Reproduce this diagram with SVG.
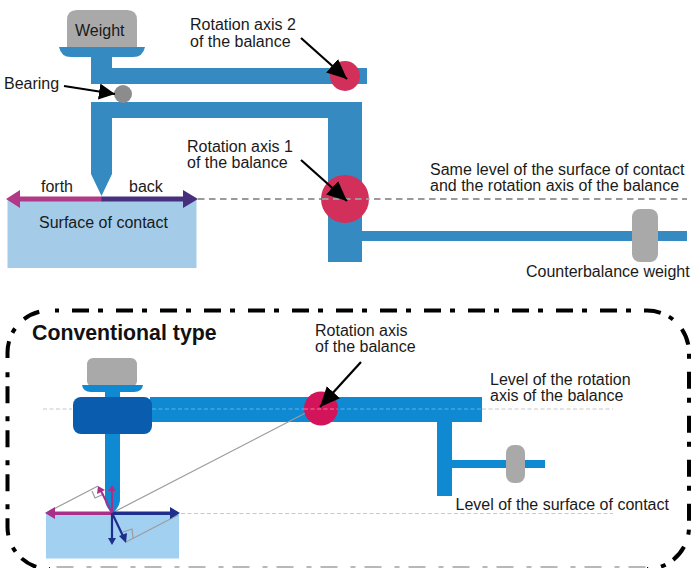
<svg xmlns="http://www.w3.org/2000/svg" width="691" height="568" viewBox="0 0 691 568">
<style>
text{font-family:"Liberation Sans",Arial,sans-serif;font-size:16px;fill:#1a1a1a}
.b{fill:#368ac2}.c{fill:#0f8ad2}.g{fill:#a9a9a9}.r{fill:#d2305a}
.d{stroke:#9a9a9a;stroke-width:1.8;stroke-dasharray:6.500 4.500;fill:none}
.d2{stroke:#c8c8c8;stroke-width:1.2;stroke-dasharray:4 2.500;fill:none}
.k{stroke:#000;stroke-width:2.200;fill:none;marker-end:url(#ka)}
.k2{stroke:#000;stroke-width:2.200;fill:none;marker-end:url(#kb)}
.l{stroke:#9c9c9c;stroke-width:1.2;fill:none}
.f{fill:none;stroke:#000;stroke-width:4;stroke-dasharray:17 9 5 13}
</style>
<defs>
<marker id="ka" markerUnits="userSpaceOnUse" markerWidth="22" markerHeight="20" refX="20" refY="9" orient="auto"><path d="M0 0L20 9L0 18Z" fill="#000"/></marker>
<marker id="kb" markerUnits="userSpaceOnUse" markerWidth="18" markerHeight="18" refX="16" refY="8" orient="auto"><path d="M0 0L16 8L0 16Z" fill="#000"/></marker>
</defs>
<rect id="background" width="691" height="568" fill="#fff"/>
<g id="surface-top"><rect x="7.500" y="199" width="189" height="69" fill="#a4cce8"/><text x="39" y="228">Surface of contact</text></g>
<path class="d" d="M198 199H687"/>
<g id="weight-top"><path d="M67 47V20Q67 10 77 10H127Q137 10 137 20V47Z" class="g"/><text x="75" y="36">Weight</text></g>
<g id="upper-beam"><path class="b" d="M59 47H145Q143 57 133 57H112V68H367V84H91V57H71Q61 57 59 47Z"/></g>
<g id="lower-beam"><path class="b" d="M91 102H362V262H328V118H112V174L101.500 196L91 174Z"/></g>
<g id="bearing"><circle cx="123" cy="94" r="9" fill="#8c8c8c"/><text x="4" y="89">Bearing</text></g>
<g id="axis-2"><circle cx="345" cy="76" r="15" class="r"/><text x="190" y="30">Rotation axis 2</text><text x="190" y="47">of the balance</text></g>
<g id="counterbalance"><rect x="362" y="231" width="325" height="10" class="b"/><rect x="632" y="209" width="26" height="53" rx="8" class="g"/><text x="526" y="277">Counterbalance weight</text></g>
<g id="axis-1"><circle cx="345" cy="199" r="24" class="r"/><text x="187" y="152">Rotation axis 1</text><text x="187" y="168">of the balance</text></g>
<path class="d" d="M322 199H369"/>
<g id="level-label"><text x="430" y="175">Same level of the surface of contact</text><text x="430" y="191">and the rotation axis of the balance</text></g>
<g id="motion-top">
<text x="41" y="192">forth</text><text x="129" y="192">back</text>
<path d="M102 196.500H20V190L6 199L20 208V201.500H102Z" fill="#b03a88"/>
<path d="M101.500 196.500H183V190L198 199L183 208V201.500H101.500Z" fill="#46307e"/>
</g>
<g id="connectors-top">
<path class="k2" d="M64 86L115 94"/><path class="k" d="M301 38L347 79"/><path class="k" d="M301 160L347 201"/>
</g>
<g id="frame">
<path class="f" stroke-dashoffset="27" d="M55 310.500H647A42 42 0 0 1 689 352.500V527A42 42 0 0 1 647 569"/>
<path class="f" stroke-dashoffset="30" d="M50 569A42 42 0 0 1 7.500 527V360"/>
<path class="f" style="stroke-dasharray:17 9 5 13 17 100" d="M7.500 358V352.500A42 42 0 0 1 50 310.500"/>
<path d="M647 567H50" fill="none" stroke="#b8b8b8" stroke-width="2.200" stroke-dasharray="17 9 5 13" stroke-dashoffset="-1.500"/>
</g>
<text x="32" y="340" style="font-size:21.300px;font-weight:bold;fill:#111">Conventional type</text>
<g id="surface-bottom"><rect x="46" y="514" width="133" height="44.500" fill="#a2d0f0"/></g>
<path class="d2" d="M181 513.500H613M43 409H72M482 409H613"/>
<g id="weight-bottom"><rect x="87" y="358" width="50" height="29" rx="6" class="g"/><path class="c" d="M82 385H143Q142 392 134 392H120V398H105V392H91Q83 392 82 385Z"/></g>
<g id="beam-bottom"><rect x="150" y="397" width="332" height="25" class="c"/><rect x="437" y="422" width="15" height="74" class="c"/><rect x="452" y="460" width="93" height="8" class="c"/><rect x="506" y="445" width="19" height="38" rx="8" class="g"/><path class="c" d="M105 434H120V500Q120 506 112.500 514Q105 506 105 500Z"/><rect x="73" y="397" width="79" height="37" rx="8" fill="#0a5cae"/></g>
<path d="M152 409H482" fill="none" stroke="#5fb3e6" stroke-width="1.200" stroke-dasharray="4 2.500"/>
<path class="l" d="M112 513L320 405.500"/>
<g id="axis-bottom"><circle cx="321" cy="408.500" r="17" fill="#d4145a"/><text x="315" y="336">Rotation axis</text><text x="315" y="352">of the balance</text></g>
<path d="M304 409H338" fill="none" stroke="#e87fa0" stroke-width="1.200" stroke-dasharray="4 2.500"/>
<g id="labels-bottom"><text x="490" y="385">Level of the rotation</text><text x="490" y="401">axis of the balance</text><text x="455.500" y="510">Level of the surface of contact</text></g>
<g id="vectors">
<path class="l" d="M46 513L98 486M92 491L95 498L104 494M126 542L178 515M123 532L132 529L133 538"/>
<path d="M112 511.500H55V507L45 513L55 519V515H112Z" fill="#a83088"/>
<path d="M112 511.500H170V507L180 513L170 519V515H112Z" fill="#1e2e8c"/>
<path d="M112 513V490M112 513L101 491" stroke="#a83088" stroke-width="2" fill="none"/><path d="M108 491L112 485L116 491ZM97 494L98 486L105 490Z" fill="#a83088"/>
<path d="M112 513V539M112 513L123 536" stroke="#1e2e8c" stroke-width="2.200" fill="none"/><path d="M108 538L112 545L116 538ZM119 536L126 543L127 533Z" fill="#1e2e8c"/>
</g>
<g id="connectors-bottom"><path class="k" d="M361 362L320 407"/></g>
</svg>
